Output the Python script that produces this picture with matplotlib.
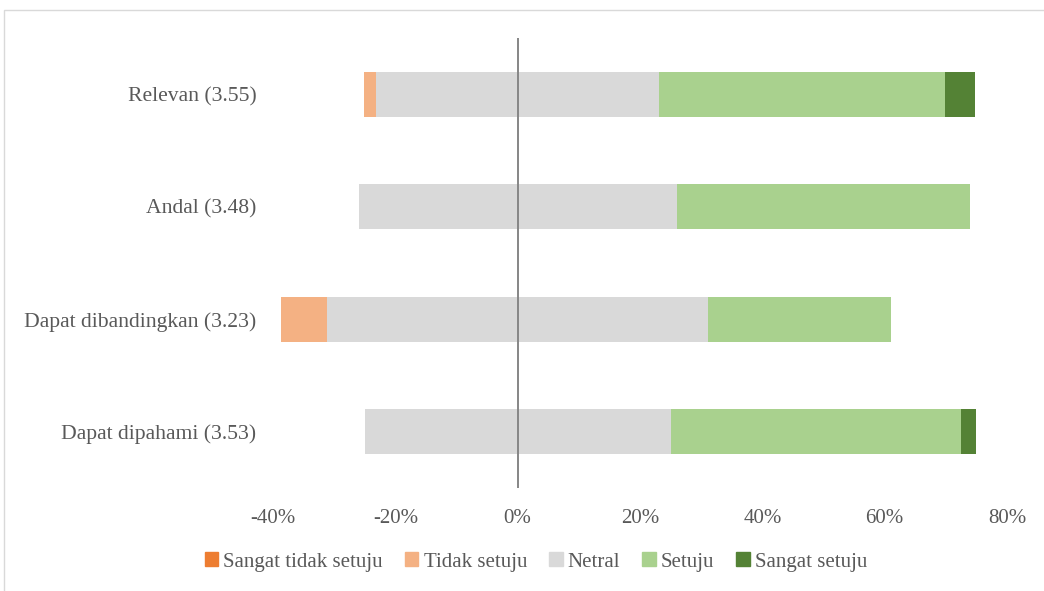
import matplotlib
matplotlib.use("Agg")
import matplotlib.pyplot as plt
from matplotlib.patches import Rectangle
from matplotlib.ticker import FuncFormatter
import numpy as np

categories = ["Relevan (3.55)", "Andal (3.48)", "Dapat dibandingkan (3.23)", "Dapat dipahami (3.53)"]
series_names = ["Sangat tidak setuju", "Tidak setuju", "Netral", "Setuju", "Sangat setuju"]
sangat_tidak_setuju = [0.0, 0.0, 0.0, 0.0]
tidak_setuju = [1.9, 0.0, 7.5, 0.0]
netral = [46.3, 52.0, 62.3, 50.0]
setuju = [46.7, 48.0, 29.9, 47.5]
sangat_setuju = [4.9, 0.0, 0.0, 2.5]
colors = ["#ED7D31", "#F4B183", "#D9D9D9", "#A9D18E", "#548235"]
xticks = [-40, -20, 0, 20, 40, 60, 80]

plt.rcParams['font.family'] = ['Liberation Serif', 'DejaVu Serif']
text_color = "#595959"

fig = plt.figure(figsize=(10.44, 5.91), dpi=100)
ax = fig.add_axes([273/1044, 1-488/591, (1007-273)/1044, (488-38)/591])

data = np.array([sangat_tidak_setuju, tidak_setuju, netral, setuju, sangat_setuju])
y = np.arange(len(categories))
left = -(data[0] + data[1] + data[2] / 2)
for i, name in enumerate(series_names):
    ax.barh(y, data[i], left=left, height=0.4, color=colors[i], label=name, zorder=2)
    left = left + data[i]

ax.axvline(0, color="#868686", lw=1.4, zorder=3)
ax.set_ylim(3.5, -0.5)
ax.set_xlim(-40, 80)
ax.set_xticks(xticks)
ax.xaxis.set_major_formatter(FuncFormatter(lambda v, p: f"{int(v)}%"))
ax.set_yticks(y)
ax.set_yticklabels(categories)
ax.tick_params(axis='both', length=0, labelcolor=text_color)
ax.tick_params(axis='y', pad=12, labelsize=15.6)
ax.tick_params(axis='x', pad=15, labelsize=15)
for s in ax.spines.values():
    s.set_visible(False)

handles = [Rectangle((0, 0), 1, 1, color=c) for c in colors]
leg = fig.legend(handles, series_names, loc='center', bbox_to_anchor=(536/1044, 1-562/591),
                 ncol=5, frameon=False, fontsize=15, handlelength=0.65, handleheight=0.65,
                 handletextpad=0.25, columnspacing=1.05)
for t in leg.get_texts():
    t.set_color(text_color)

fig.patches.append(Rectangle((4/1044, -0.1), 1.2, 1.1 - 10/591, transform=fig.transFigure,
                             fill=False, edgecolor="#D9D9D9", lw=1.0))

fig.savefig("out.png", dpi=100)
